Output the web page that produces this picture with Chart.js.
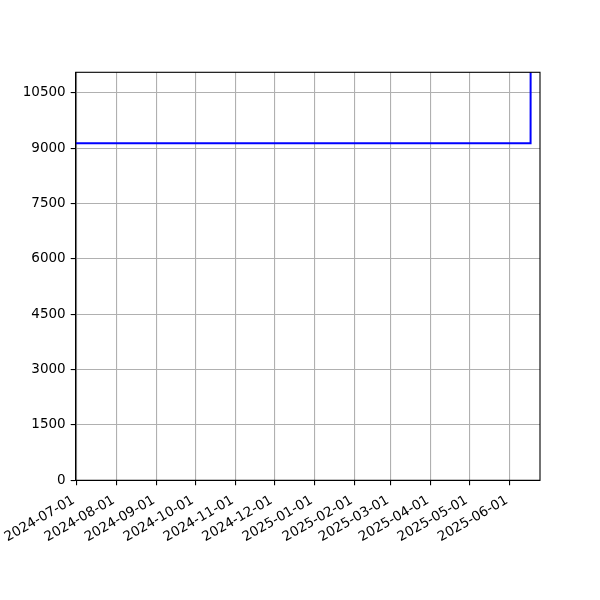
<!DOCTYPE html>
<html>
<head>
<meta charset="utf-8">
<script src="https://cdn.jsdelivr.net/npm/chart.js@4.4.1/dist/chart.umd.min.js"></script>
<style>
  html, body { margin: 0; padding: 0; background: #fff; }
  #chart { display: block; }
</style>
</head>
<body>
<canvas id="chart" width="600" height="600"></canvas>
<script>
// serie: valor diário, estável e depois um salto no fim
const dates = ['2024-06-30', '2024-08-01', '2024-09-01', '2024-10-01', '2024-11-01', '2024-12-01',
  '2025-01-01', '2025-02-01', '2025-03-01', '2025-04-01', '2025-05-01', '2025-06-01', '2025-06-17', '2025-06-18'];
const values = [9140, 9140, 9140, 9140, 9140, 9140, 9140, 9140, 9140, 9140, 9140, 9140, 9140, 60000];

const xTickLabels = ['2024-07-01', '2024-08-01', '2024-09-01', '2024-10-01', '2024-11-01', '2024-12-01',
  '2025-01-01', '2025-02-01', '2025-03-01', '2025-04-01', '2025-05-01', '2025-06-01'];
const yTicks = [0, 1500, 3000, 4500, 6000, 7500, 9000, 10500];

const xStart = '2024-06-30T05:30';
const xEnd = '2025-06-24T07:00';
const yMax = 11060;

// dias desde 2024-07-01
const BASE = Date.UTC(2024, 6, 1);
function toDay(s) {
  return (Date.parse(s.length > 10 ? s + 'Z' : s + 'T00:00Z') - BASE) / 86400000;
}
function dayLabel(v) {
  const d = new Date(BASE + Math.round(v) * 86400000);
  return d.toISOString().slice(0, 10);
}

const points = dates.map((d, i) => ({ x: toDay(d), y: values[i] }));

const FONT = { family: 'DejaVu Sans', size: 13.5 };

// moldura preta nos 4 lados (estilo matplotlib)
const framePlugin = {
  id: 'frame',
  afterDraw(chart) {
    const a = chart.chartArea, ctx = chart.ctx;
    ctx.save();
    ctx.strokeStyle = '#000';
    ctx.lineWidth = 1.1;
    ctx.strokeRect(a.left, a.top, a.right - a.left, a.bottom - a.top);
    ctx.restore();
  }
};

new Chart(document.getElementById('chart').getContext('2d'), {
  type: 'line',
  data: {
    datasets: [{
      data: points,
      borderColor: '#0000ff',
      borderWidth: 2,
      pointRadius: 0,
      fill: false,
      tension: 0
    }]
  },
  options: {
    responsive: false,
    animation: false,
    layout: { padding: { left: 5.7, top: 72.3, right: 60, bottom: 0 } },
    plugins: { legend: { display: false }, tooltip: { enabled: false } },
    scales: {
      x: {
        type: 'linear',
        min: toDay(xStart),
        max: toDay(xEnd),
        afterBuildTicks(axis) {
          axis.ticks = xTickLabels.map(t => ({ value: toDay(t) }));
        },
        afterFit(axis) { axis.height = 119.7; },
        ticks: {
          color: '#000',
          font: FONT,
          minRotation: 30,
          maxRotation: 30,
          padding: 7,
          labelOffset: -3,
          autoSkip: false,
          callback: v => dayLabel(v)
        },
        grid: { color: '#b0b0b0', lineWidth: 1.1, tickColor: '#000', tickLength: 5 },
        border: { color: '#000', width: 1.1 }
      },
      y: {
        min: 0,
        max: yMax,
        afterBuildTicks(axis) {
          axis.ticks = yTicks.map(v => ({ value: v }));
        },
        afterFit(axis) { axis.width = 70; },
        ticks: { color: '#000', font: FONT, padding: 5, callback: v => String(v) },
        grid: { color: '#b0b0b0', lineWidth: 1.1, tickColor: '#000', tickLength: 5 },
        border: { color: '#000', width: 1.1 }
      }
    }
  },
  plugins: [framePlugin]
});
</script>
</body>
</html>
